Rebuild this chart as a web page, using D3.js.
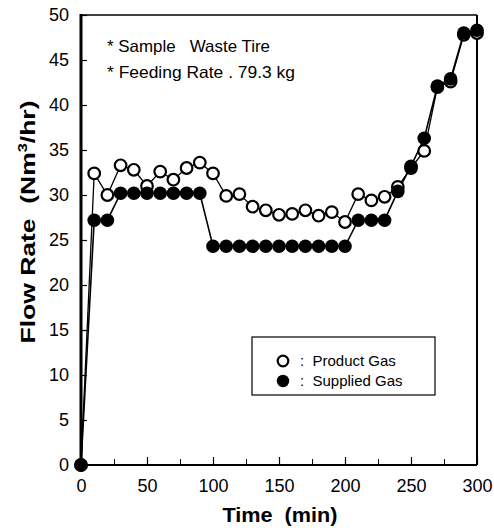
<!DOCTYPE html>
<html><head><meta charset="utf-8">
<script src="https://cdn.jsdelivr.net/npm/d3@7"></script>
<style>body{margin:0;background:#fff}svg{display:block}text{font-family:"Liberation Sans",Arial,sans-serif;fill:#000;white-space:pre}</style>
</head><body>
<script>
const times = [0,10,20,30,40,50,60,70,80,90,100,110,120,130,140,150,160,170,180,190,200,210,220,230,240,250,260,270,280,290,300];
const productGas = [0,32.4,30.0,33.3,32.8,31.0,32.6,31.7,33.0,33.6,32.4,29.9,30.1,28.7,28.3,27.8,27.9,28.3,27.7,28.1,27.0,30.1,29.4,29.8,30.9,33.0,34.9,42.0,42.6,47.8,48.0];
const suppliedGas = [0,27.2,27.2,30.2,30.2,30.2,30.2,30.2,30.2,30.2,24.3,24.3,24.3,24.3,24.3,24.3,24.3,24.3,24.3,24.3,24.3,27.2,27.2,27.2,30.4,33.2,36.3,42.1,42.9,48.0,48.3];
const xTicks = [0,50,100,150,200,250,300];
const xMinorTicks = [25,75,125,175,225,275];
const yTicks = [0,5,10,15,20,25,30,35,40,45,50];
const seriesNames = ["Product Gas","Supplied Gas"];
const notes = ["* Sample   Waste Tire","* Feeding Rate . 79.3 kg"];

const W=494,H=531;
const svg=d3.select("body").append("svg").attr("width",W).attr("height",H);
const x=d3.scaleLinear().domain([0,300]).range([81,477]);
const y=d3.scaleLinear().domain([0,50]).range([465,15]);

// frame
const g=svg.append("g");
g.append("line").attr("x1",x(0)).attr("x2",x(300)).attr("y1",y(50)).attr("y2",y(50)).attr("stroke","#000").attr("stroke-width",1.5);
g.append("line").attr("x1",x(300)).attr("x2",x(300)).attr("y1",y(50)).attr("y2",y(0)).attr("stroke","#000").attr("stroke-width",2);
g.append("line").attr("x1",x(0)).attr("x2",x(300)).attr("y1",y(0)).attr("y2",y(0)).attr("stroke","#000").attr("stroke-width",2);
g.append("line").attr("x1",x(0)).attr("x2",x(0)).attr("y1",y(50)-1).attr("y2",y(0)+1).attr("stroke","#000").attr("stroke-width",3);

// axes
const xAxis=d3.axisBottom(x).tickValues(xTicks).tickSize(-8).tickPadding(14);
const xa=svg.append("g").attr("transform",`translate(0,${y(0)})`).call(xAxis);
xa.select(".domain").remove();
xa.selectAll("line").attr("stroke-width",1.2);
xa.selectAll("text").attr("font-size",18).attr("font-family","Liberation Sans, Arial, sans-serif");
svg.append("g").attr("transform",`translate(0,${y(0)})`).call(d3.axisBottom(x).tickValues(xMinorTicks).tickSize(-6).tickFormat(""))
  .call(s=>s.select(".domain").remove()).selectAll("line").attr("stroke-width",1);

const yAxis=d3.axisLeft(y).tickValues(yTicks).tickSize(-6).tickPadding(12);
const ya=svg.append("g").attr("transform",`translate(${x(0)},0)`).call(yAxis);
ya.select(".domain").remove();
ya.selectAll("line").attr("stroke-width",1.2);
ya.selectAll("text").attr("font-size",18).attr("font-family","Liberation Sans, Arial, sans-serif");

// titles
svg.append("text").attr("x",280).attr("y",522).attr("text-anchor","middle").attr("font-size",20).attr("font-weight","bold")
  .attr("textLength",115).attr("lengthAdjust","spacingAndGlyphs").text("Time  (min)");
const yt=svg.append("text").attr("transform","translate(35,222) rotate(-90)").attr("text-anchor","middle").attr("font-size",21).attr("font-weight","bold")
  .attr("textLength",243).attr("lengthAdjust","spacingAndGlyphs");
yt.append("tspan").text("Flow Rate  (Nm");
yt.append("tspan").attr("font-size",13).attr("dy",-8).text("3");
yt.append("tspan").attr("dy",8).text("/hr)");

// notes
const noteLens=[163,188];
svg.selectAll("text.note").data(notes).join("text").attr("class","note")
  .attr("x",107).attr("y",(d,i)=>52+i*26).attr("font-size",16.5)
  .attr("textLength",(d,i)=>noteLens[i]).attr("lengthAdjust","spacingAndGlyphs").text(d=>d);

// lines
const line=d3.line().x(d=>x(d[0])).y(d=>y(d[1]));
const pData=times.map((t,i)=>[t,productGas[i]]);
const sData=times.map((t,i)=>[t,suppliedGas[i]]);
svg.append("path").datum(pData).attr("d",line).attr("fill","none").attr("stroke","#000").attr("stroke-width",1.3);
svg.append("path").datum(sData).attr("d",line).attr("fill","none").attr("stroke","#000").attr("stroke-width",1.6);

// markers
svg.append("g").selectAll("circle").data(pData).join("circle")
  .attr("cx",d=>x(d[0])).attr("cy",d=>y(d[1])).attr("r",5.8).attr("fill","#fff").attr("stroke","#000").attr("stroke-width",2.2);
svg.append("g").selectAll("circle").data(sData).join("circle")
  .attr("cx",d=>x(d[0])).attr("cy",d=>y(d[1])).attr("r",6.8).attr("fill","#000");

// legend
const lg=svg.append("g");
lg.append("rect").attr("x",252).attr("y",337).attr("width",183).attr("height",58).attr("fill","#fff").attr("stroke","#000").attr("stroke-width",1.2);
lg.append("circle").attr("cx",283).attr("cy",361).attr("r",5.3).attr("fill","#fff").attr("stroke","#000").attr("stroke-width",2.2);
lg.append("circle").attr("cx",283).attr("cy",381).attr("r",6.2).attr("fill","#000");
lg.selectAll("text").data(seriesNames).join("text").attr("x",300).attr("y",(d,i)=>366+i*20).attr("font-size",15).text(d=>":  "+d);
</script>
</body></html>
